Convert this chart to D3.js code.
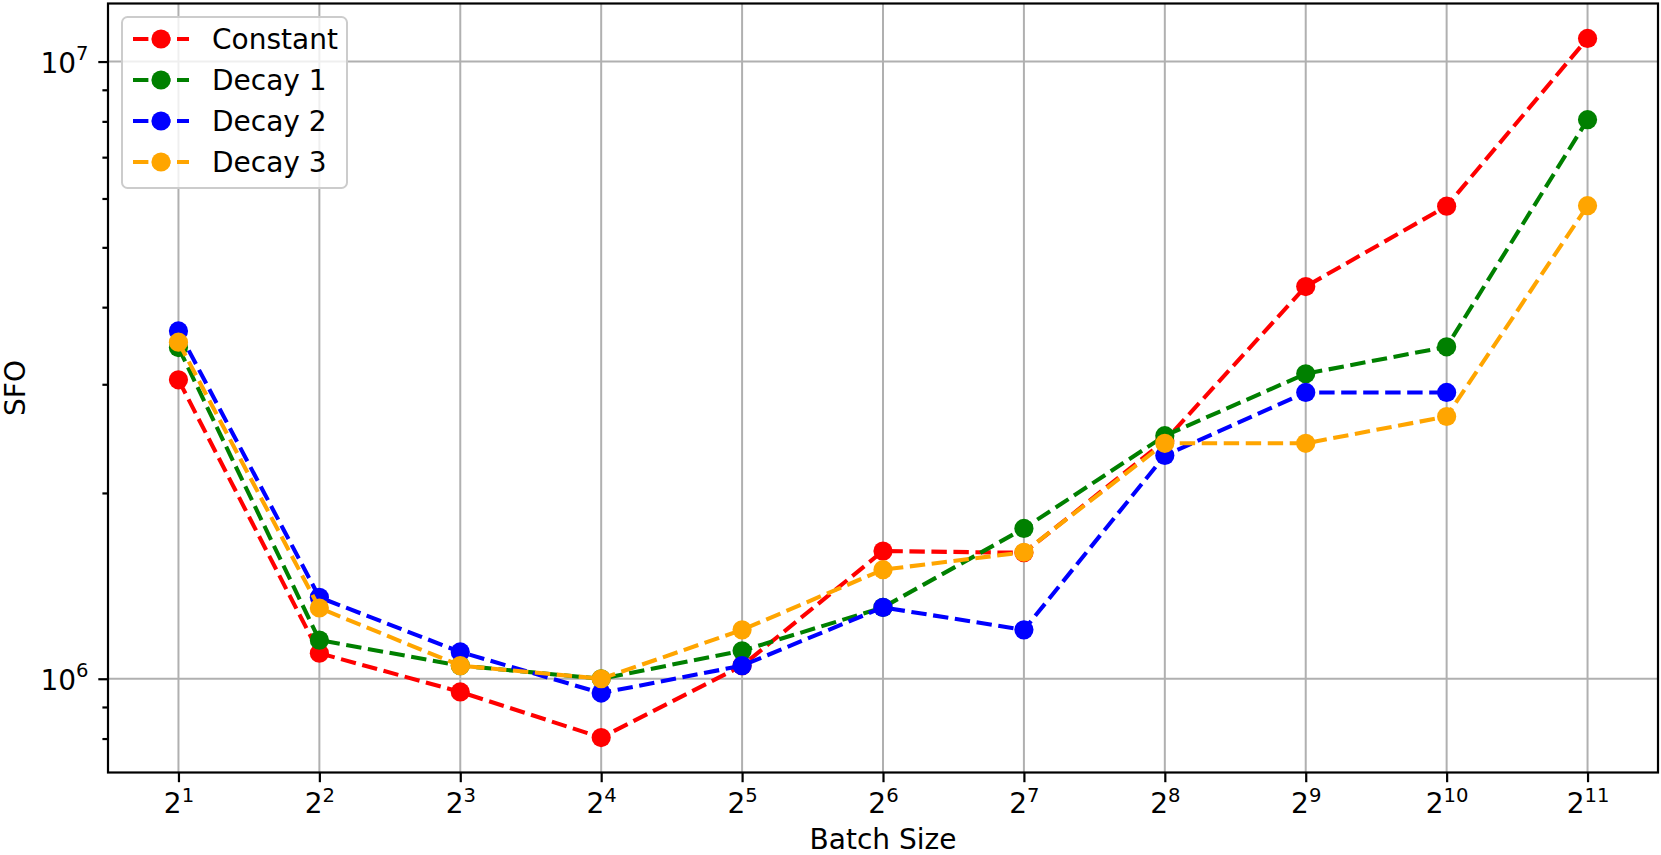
<!DOCTYPE html>
<html>
<head>
<meta charset="utf-8">
<script src="https://cdn.jsdelivr.net/npm/d3@7"></script>
<style>
  body { margin: 0; background: #fff; }
  svg { display: block; font-family: "DejaVu Sans", sans-serif; }
</style>
</head>
<body>
<div id="grafica"></div>
<script>
(function (d3) {
  'use strict';

// batch size exponents (2^k) and SFO values
var batchExp = [1, 2, 3, 4, 5, 6, 7, 8, 9, 10, 11];
var constantSFO = [3.05e6, 1.10e6, 0.952e6, 0.803e6, 1.05e6, 1.61e6, 1.60e6, 2.43e6, 4.32e6, 5.83e6, 1.09e7];
var decay1SFO   = [3.44e6, 1.155e6, 1.05e6, 1.0e6, 1.11e6, 1.305e6, 1.752e6, 2.476e6, 3.12e6, 3.45e6, 8.05e6];
var decay2SFO   = [3.66e6, 1.355e6, 1.105e6, 0.948e6, 1.05e6, 1.305e6, 1.20e6, 2.30e6, 2.91e6, 2.91e6];
var decay3SFO   = [3.51e6, 1.302e6, 1.05e6, 1.0e6, 1.20e6, 1.502e6, 1.603e6, 2.407e6, 2.407e6, 2.66e6, 5.84e6];

var seriesNames  = ["Constant", "Decay 1", "Decay 2", "Decay 3"];
var seriesValues = [constantSFO, decay1SFO, decay2SFO, decay3SFO];
var seriesColors = ["#ff0000", "#008000", "#0000ff", "#ffa500"];

var yMajorTicks = [1e6, 1e7];

var margin = {top: 3.5, right: 3, bottom: 82.5, left: 108},
    width = 1661 - margin.left - margin.right,
    height = 855 - margin.top - margin.bottom;

var svg = d3.select("#grafica")
  .append("svg")
    .attr("width", width + margin.left + margin.right)
    .attr("height", height + margin.top + margin.bottom)
  .append("g")
    .attr("transform", "translate(" + margin.left + "," + margin.top + ")");

// table of points, one row per series
var series = seriesNames.map(function (name, i) {
  return {
    name: name,
    color: seriesColors[i],
    points: seriesValues[i].map(function (v, j) { return {x: Math.pow(2, batchExp[j]), y: v}; })
  };
});

// x: log base 2, 5% margin on each side like matplotlib
var eMin = d3.min(batchExp), eMax = d3.max(batchExp);
var ePad = (eMax - eMin) * 0.05;
var x = d3.scaleLog().base(2)
  .domain([Math.pow(2, eMin - ePad), Math.pow(2, eMax + ePad)])
  .range([0, width]);

// y: log base 10, 5% margin in log space
var allVals = d3.merge(seriesValues);
var lMin = Math.log10(d3.min(allVals)), lMax = Math.log10(d3.max(allVals));
var lPad = (lMax - lMin) * 0.05;
var y = d3.scaleLog()
  .domain([Math.pow(10, lMin - lPad), Math.pow(10, lMax + lPad)])
  .range([height, 0]);

var yMinorTicks = [];
for (var p = Math.floor(lMin - lPad); p <= Math.ceil(lMax + lPad); p++) {
  for (var m = 2; m <= 9; m++) {
    var v = m * Math.pow(10, p);
    if (v >= y.domain()[0] && v <= y.domain()[1]) yMinorTicks.push(v);
  }
}

var xTickVals = batchExp.map(function (e) { return Math.pow(2, e); });

// grid
svg.append("g")
  .attr("class", "grid")
  .selectAll("line")
  .data(xTickVals)
  .enter().append("line")
    .attr("x1", function (d) { return x(d); })
    .attr("x2", function (d) { return x(d); })
    .attr("y1", 0)
    .attr("y2", height)
    .attr("stroke", "#b0b0b0")
    .attr("stroke-width", 2);

svg.append("g")
  .attr("class", "grid")
  .selectAll("line")
  .data(yMajorTicks)
  .enter().append("line")
    .attr("x1", 0)
    .attr("x2", width)
    .attr("y1", function (d) { return y(d); })
    .attr("y2", function (d) { return y(d); })
    .attr("stroke", "#b0b0b0")
    .attr("stroke-width", 2);

// lines + markers, drawn series by series
var lineFunction = d3.line()
  .x(function (d) { return x(d.x); })
  .y(function (d) { return y(d.y); });

series.forEach(function (s) {
  var g = svg.append("g").attr("class", "serie");
  g.append("path")
    .datum(s.points)
    .attr("fill", "none")
    .attr("stroke", s.color)
    .attr("stroke-width", 4.1)
    .attr("stroke-dasharray", "15.4,6.6")
    .attr("d", lineFunction);
  g.selectAll("circle")
    .data(s.points)
    .enter().append("circle")
      .attr("cx", function (d) { return x(d.x); })
      .attr("cy", function (d) { return y(d.y); })
      .attr("r", 9.6)
      .attr("fill", s.color);
});

// x axis
var xAxis = svg.append("g")
  .attr("transform", "translate(0," + height + ")")
  .call(d3.axisBottom(x)
    .tickValues(xTickVals)
    .tickSize(9.7)
    .tickSizeOuter(0)
    .tickFormat(function () { return "2"; }));

xAxis.selectAll(".tick line").attr("stroke", "#000").attr("stroke-width", 2.2);
xAxis.selectAll(".tick text")
  .attr("y", 40.5)
  .attr("dy", 0)
  .attr("fill", "#000")
  .style("font-size", "28px")
  .style("font-family", "DejaVu Sans")
  .each(function (d) {
    d3.select(this).append("tspan")
      .attr("dy", -11.5)
      .style("font-size", "19.6px")
      .text(Math.round(Math.log2(d)));
  });
xAxis.select(".domain").remove();

// y axis, major
var yAxis = svg.append("g")
  .call(d3.axisLeft(y)
    .tickValues(yMajorTicks)
    .tickSize(9.7)
    .tickSizeOuter(0)
    .tickFormat(function () { return "10"; }));

yAxis.selectAll(".tick line").attr("stroke", "#000").attr("stroke-width", 2.2);
yAxis.selectAll(".tick text")
  .attr("x", -19.5)
  .attr("dy", 10.5)
  .attr("fill", "#000")
  .style("font-size", "28px")
  .style("font-family", "DejaVu Sans")
  .each(function (d) {
    d3.select(this).append("tspan")
      .attr("dy", -12.5)
      .style("font-size", "19.6px")
      .text(Math.round(Math.log10(d)));
  });
yAxis.select(".domain").remove();

// y axis, minor ticks
var yMinor = svg.append("g")
  .call(d3.axisLeft(y)
    .tickValues(yMinorTicks)
    .tickSize(5.6)
    .tickSizeOuter(0)
    .tickFormat(""));
yMinor.selectAll(".tick line").attr("stroke", "#000").attr("stroke-width", 2.2);
yMinor.select(".domain").remove();

// frame (spines on top of the lines)
svg.append("rect")
  .attr("x", 0)
  .attr("y", 0)
  .attr("width", width)
  .attr("height", height)
  .attr("fill", "none")
  .attr("stroke", "#000")
  .attr("stroke-width", 2.2);

// axis titles
svg.append("text")
  .attr("x", width / 2)
  .attr("y", height + 76)
  .attr("text-anchor", "middle")
  .style("font-size", "28px")
  .text("Batch Size");

svg.append("text")
  .attr("transform", "translate(" + (25 - margin.left) + "," + (height / 2) + ") rotate(-90)")
  .attr("text-anchor", "middle")
  .style("font-size", "28px")
  .text("SFO");

// legend
var legend = svg.append("g")
  .attr("transform", "translate(" + (122 - margin.left) + "," + (17 - margin.top) + ")");

legend.append("rect")
  .attr("width", 225)
  .attr("height", 171)
  .attr("rx", 5.6)
  .attr("fill", "#fff")
  .attr("fill-opacity", 0.8)
  .attr("stroke", "#cccccc")
  .attr("stroke-width", 2);

series.forEach(function (s, i) {
  var row = legend.append("g")
    .attr("transform", "translate(0," + (22 + i * 41) + ")");
  row.append("line")
    .attr("x1", 11)
    .attr("x2", 67)
    .attr("stroke", s.color)
    .attr("stroke-width", 4.1)
    .attr("stroke-dasharray", "15.4,6.6");
  row.append("circle")
    .attr("cx", 39)
    .attr("r", 9.6)
    .attr("fill", s.color);
  row.append("text")
    .attr("x", 90)
    .attr("y", 10.2)
    .style("font-size", "28px")
    .text(s.name);
});

}(d3));
</script>
</body>
</html>
